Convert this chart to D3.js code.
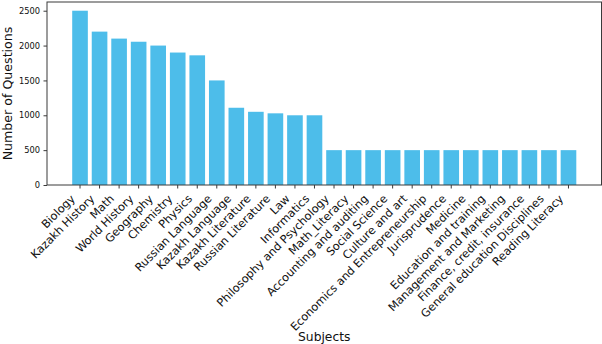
<!DOCTYPE html>
<html>
<head>
<meta charset="utf-8">
<script src="https://cdn.jsdelivr.net/npm/d3@7/dist/d3.min.js"></script>
<style>
  html, body { margin: 0; padding: 0; background: #fff; }
  svg { display: block; font-family: "DejaVu Sans", sans-serif; }
</style>
</head>
<body>
<svg id="chart" width="602" height="344"></svg>
<script>
const subjects = [
  "Biology", "Kazakh History", "Math", "World History", "Geography", "Chemistry",
  "Physics", "Russian Language", "Kazakh Language", "Kazakh Literature",
  "Russian Literature", "Law", "Informatics", "Philosophy and Psychology",
  "Math_Literacy", "Accounting and auditing", "Social Science", "Culture and art",
  "Economics and Entrepreneurship", "Jurisprudence", "Medicine",
  "Education and training", "Management and Marketing", "Finance, credit, insurance",
  "General education Disciplines", "Reading Literacy"
];
const questions = [
  2500, 2200, 2100, 2055, 2000, 1900,
  1860, 1500, 1108, 1050,
  1028, 1000, 1000, 500,
  500, 500, 500, 500,
  500, 500, 500,
  500, 500, 500,
  500, 500
];
const yTicks = [0, 500, 1000, 1500, 2000, 2500];
const xTitle = "Subjects";
const yTitle = "Number of Questions";

const svg = d3.select("#chart");
const mLeft = 47, mRight = 601.5, mTop = 2, mBottom = 185;

const x = d3.scaleBand()
  .domain(subjects)
  .range([mLeft, mRight])
  .paddingInner(0.2)
  .paddingOuter(1.29);

const yMax = d3.max(questions) * 1.05;
const y = d3.scaleLinear().domain([0, yMax]).range([mBottom, mTop]);

const data = subjects.map((s, i) => ({ s, v: questions[i] }));

// bars
svg.append("g").selectAll("rect")
  .data(data)
  .join("rect")
  .attr("x", d => x(d.s))
  .attr("width", x.bandwidth())
  .attr("y", d => y(d.v))
  .attr("height", d => y(0) - y(d.v))
  .attr("fill", "#4dbdea");

// frame
svg.append("rect")
  .attr("x", mLeft).attr("y", mTop)
  .attr("width", mRight - mLeft).attr("height", mBottom - mTop)
  .attr("fill", "none").attr("stroke", "#3a3a3a").attr("stroke-width", 1);

// y axis
const yAxis = d3.axisLeft(y).tickValues(yTicks).tickSize(3.5).tickPadding(3.5).tickFormat(d3.format("d"));
const yg = svg.append("g").attr("transform", `translate(${mLeft},0)`).call(yAxis);
yg.select(".domain").remove();
yg.selectAll(".tick line").attr("stroke", "#3a3a3a");
yg.selectAll(".tick text")
  .attr("font-family", "DejaVu Sans")
  .attr("font-size", "8.3px")
  .attr("fill", "#111");

// x axis ticks
const xAxis = d3.axisBottom(x).tickSize(3.5).tickFormat("");
const xg = svg.append("g").attr("transform", `translate(0,${mBottom})`).call(xAxis);
xg.select(".domain").remove();
xg.selectAll(".tick line").attr("stroke", "#3a3a3a");

// rotated x tick labels (matplotlib rotation=45, ha='right')
const fs = 11.3;
const c = Math.SQRT1_2;
svg.append("g").selectAll("text")
  .data(subjects)
  .join("text")
  .attr("transform", d => {
    const tx = x(d) + x.bandwidth() / 2 - 0.236 * fs * c - 2.5;
    const ty = mBottom + 7 + (1.164 - 0.236) * fs * c;
    return `translate(${tx},${ty}) rotate(-45)`;
  })
  .attr("text-anchor", "end")
  .attr("font-size", fs + "px")
  .attr("fill", "#111")
  .text(d => d);

// axis titles
svg.append("text")
  .attr("x", (mLeft + mRight) / 2)
  .attr("y", 341)
  .attr("text-anchor", "middle")
  .attr("font-size", "12.3px")
  .attr("fill", "#111")
  .text(xTitle);

svg.append("text")
  .attr("transform", `translate(12,${(mTop + mBottom) / 2}) rotate(-90)`)
  .attr("text-anchor", "middle")
  .attr("font-size", "12.6px")
  .attr("fill", "#111")
  .text(yTitle);
</script>
</body>
</html>
